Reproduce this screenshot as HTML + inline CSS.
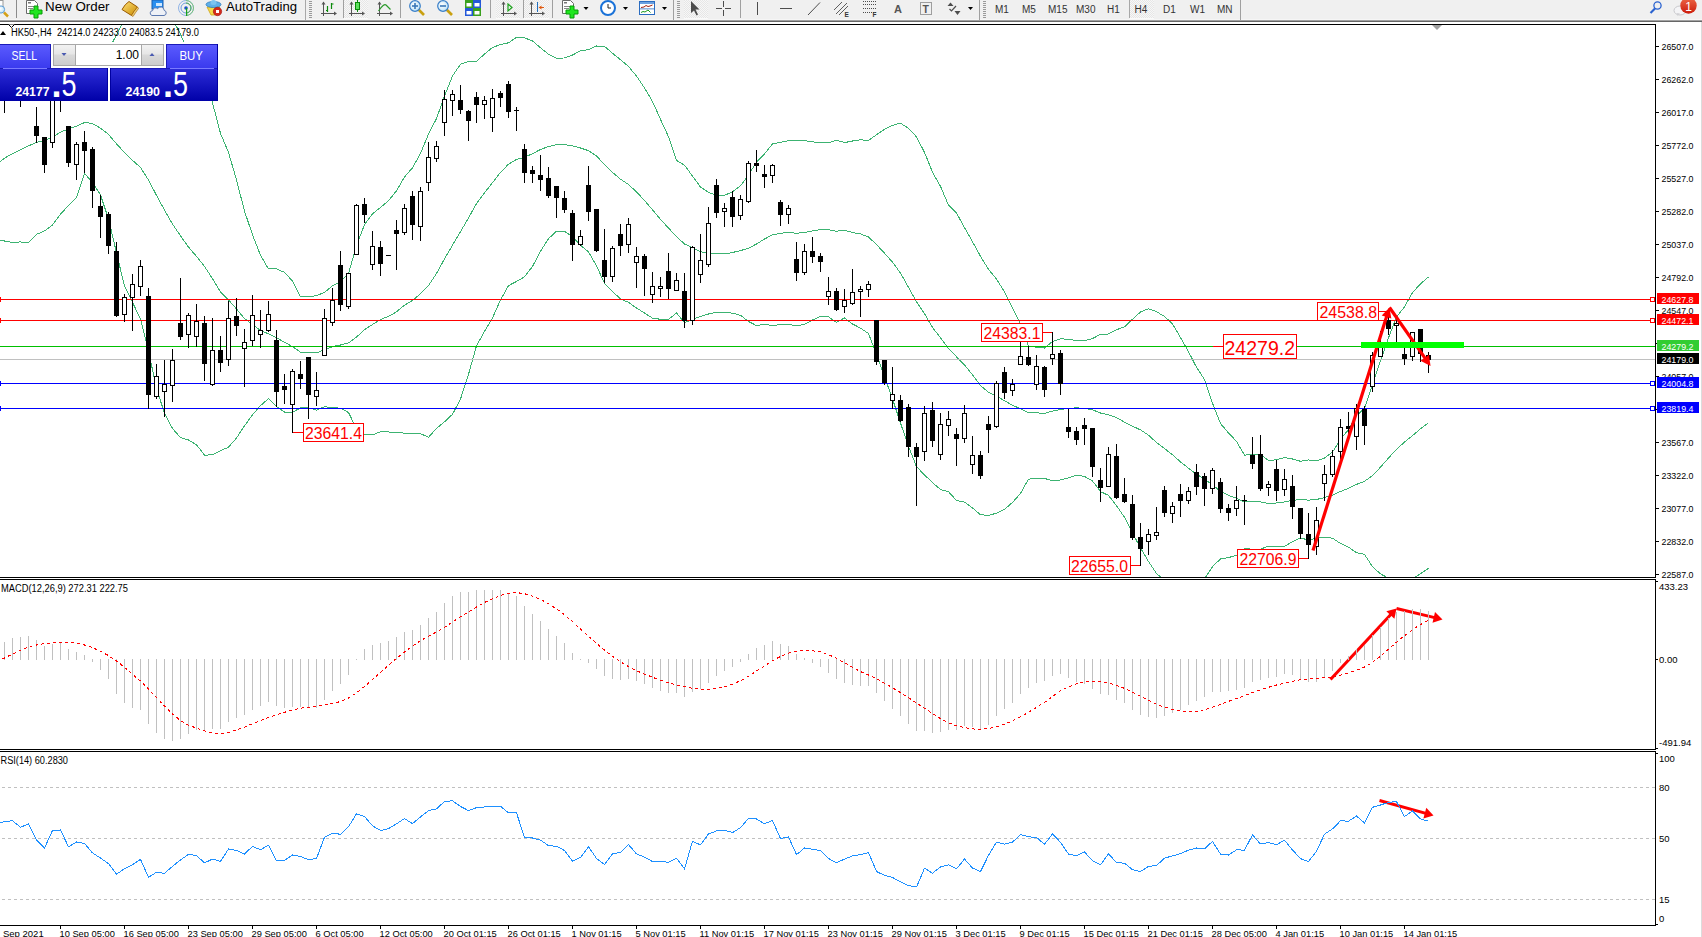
<!DOCTYPE html><html><head><meta charset="utf-8"><title>HK50-,H4</title><style>html,body{margin:0;padding:0;width:1702px;height:937px;overflow:hidden;background:#fff}svg{position:absolute;left:0;top:0;display:block}text{font-family:"Liberation Sans", Arial, sans-serif}</style></head><body>
<svg width="1702" height="937" viewBox="0 0 1702 937">
<defs><linearGradient id="gsTop" x1="0" y1="0" x2="0" y2="1"><stop offset="0" stop-color="#5c5cff"/><stop offset="1" stop-color="#3a3aee"/></linearGradient><linearGradient id="gsBot" x1="0" y1="0" x2="0" y2="1"><stop offset="0" stop-color="#2d2dd8"/><stop offset="1" stop-color="#0000a8"/></linearGradient><linearGradient id="gBtn" x1="0" y1="0" x2="0" y2="1"><stop offset="0" stop-color="#f2f2f2"/><stop offset="0.45" stop-color="#e6e6e6"/><stop offset="0.5" stop-color="#d9d9d9"/><stop offset="1" stop-color="#cdcdcd"/></linearGradient><clipPath id="cMain"><rect x="0" y="25" width="1655" height="552"/></clipPath><clipPath id="cMacd"><rect x="0" y="580" width="1655" height="169"/></clipPath><clipPath id="cRsi"><rect x="0" y="752" width="1655" height="173"/></clipPath></defs>
<rect x="0" y="0" width="1702" height="19" fill="#f0f0f0"/>
<rect x="0" y="19" width="1702" height="1" fill="#f6f6f6"/>
<rect x="0" y="20" width="1702" height="1" fill="#a2a2a2"/>
<rect x="0" y="21" width="1702" height="1" fill="#666"/>
<rect x="1701" y="22" width="1" height="915" fill="#dcdcdc"/>
<defs><pattern id="chk" width="2" height="2" patternUnits="userSpaceOnUse"><rect width="2" height="2" fill="#f7f7f7"/><rect width="1" height="1" fill="#e6e6e6"/><rect x="1" y="1" width="1" height="1" fill="#e6e6e6"/></pattern><radialGradient id="lens" cx="0.4" cy="0.4" r="0.6"><stop offset="0" stop-color="#ffffff"/><stop offset="1" stop-color="#bfe3f7"/></radialGradient><linearGradient id="gold" x1="0" y1="0" x2="1" y2="1"><stop offset="0" stop-color="#ffe27a"/><stop offset="1" stop-color="#c98a00"/></linearGradient></defs><rect x="-3" y="0.5" width="6" height="7" fill="#fff" stroke="#999"/><circle cx="1" cy="9.5" r="3.6" fill="url(#lens)" stroke="#5b9bd5" stroke-width="1"/><path d="M4,12.5 L8,16.5" stroke="#d4a017" stroke-width="2.5"/><rect x="16" y="0" width="1" height="18" fill="#8c8c8c"/><path d="M26.5,0.5 h8 l3,3 v10 h-11 Z" fill="#fff" stroke="#6a6a6a" stroke-width="1"/><rect x="28" y="2" width="3" height="1.5" fill="#777"/><rect x="28" y="6" width="6" height="1" fill="#888"/><rect x="28" y="8" width="5" height="1" fill="#888"/><path d="M34,6 h4 v4 h4 v4 h-4 v4 h-4 v-4 h-4 v-4 h4 Z" fill="#1ee61e" stroke="#079a07" stroke-width="1"/><text x="45" y="11" font-size="13.5" fill="#000" textLength="64.5" lengthAdjust="spacingAndGlyphs">New Order</text><path d="M122,9.5 Q125,4 129,1.5 L137.5,7 Q134,11 131.5,15.5 Z" fill="url(#gold)" stroke="#9a5a00" stroke-width="1"/><path d="M131.5,15.5 Q134,11 137.5,7 L138.5,8.5 Q135.5,12.5 133,16.5 Z" fill="#f0d070" stroke="#9a5a00" stroke-width="0.6"/><rect x="152" y="0" width="11" height="9" fill="#2a8ff0" stroke="#1a5fb0" stroke-width="1"/><rect x="156" y="3" width="6" height="3" fill="#cfe8ff"/><path d="M152,15.5 H164 A2.6,2.6 0 0 0 164.2,10.4 A3.6,3.6 0 0 0 157.6,8.6 A3,3 0 0 0 152.6,10.6 A2.5,2.5 0 0 0 152,15.5 Z" fill="#eef1f7" stroke="#5a78b0" stroke-width="1"/><circle cx="186" cy="8" r="7.5" fill="none" stroke="#8fb3e6" stroke-width="1"/><circle cx="186" cy="8" r="5" fill="none" stroke="#6c9be0" stroke-width="1"/><path d="M186,0.5 A7.5,7.5 0 0 1 186,15.5" fill="none" stroke="#7cc47c" stroke-width="1"/><path d="M186,3 A5,5 0 0 1 186,13" fill="none" stroke="#4caf50" stroke-width="1"/><circle cx="186" cy="8" r="1.8" fill="#1a56c8"/><rect x="186" y="8" width="1.2" height="8" fill="#19a019"/><path d="M207,7 L220,7 L215,15 L211,15 Z" fill="#f5d94a" stroke="#caa21a" stroke-width="0.8"/><ellipse cx="213.5" cy="4.5" rx="7.5" ry="3" fill="#5fb0e8" stroke="#2b7bc0" stroke-width="0.8"/><ellipse cx="213.5" cy="2.5" rx="3" ry="2.5" fill="#7cc4f0"/><circle cx="217.5" cy="11.5" r="4.2" fill="#d42a1a" stroke="#a01010" stroke-width="0.6"/><rect x="216" y="10" width="3" height="3" fill="#fff"/><text x="226" y="11.3" font-size="13.5" fill="#000" textLength="71" lengthAdjust="spacingAndGlyphs">AutoTrading</text><rect x="305" y="0" width="1" height="20" fill="#a8a8a8"/><rect x="309" y="1" width="3" height="1" fill="#9a9a9a"/><rect x="309" y="3" width="3" height="1" fill="#9a9a9a"/><rect x="309" y="5" width="3" height="1" fill="#9a9a9a"/><rect x="309" y="7" width="3" height="1" fill="#9a9a9a"/><rect x="309" y="9" width="3" height="1" fill="#9a9a9a"/><rect x="309" y="11" width="3" height="1" fill="#9a9a9a"/><rect x="309" y="13" width="3" height="1" fill="#9a9a9a"/><rect x="309" y="15" width="3" height="1" fill="#9a9a9a"/><rect x="309" y="17" width="3" height="1" fill="#9a9a9a"/><rect x="323" y="2" width="1" height="14" fill="#555"/><rect x="321" y="13" width="15" height="1" fill="#555"/><path d="M321.5,4.5 L323.5,1.5 L325.5,4.5 Z" fill="#555"/><path d="M334,11.5 L337,13.5 L334,15.5 Z" fill="#555"/><path d="M327.5,12 V6 M326,10.5 H327.5 M331.5,9 V3 M331.5,4 H333.5" stroke="#0a8a0a" stroke-width="1.2" fill="none"/><rect x="343" y="0" width="1" height="18" fill="#a0a0a0"/><rect x="344" y="0" width="24" height="18" fill="url(#chk)"/><rect x="344" y="18" width="24" height="1" fill="#fafafa"/><rect x="351" y="2" width="1" height="14" fill="#555"/><rect x="349" y="13" width="15" height="1" fill="#555"/><path d="M349.5,4.5 L351.5,1.5 L353.5,4.5 Z" fill="#555"/><path d="M362,11.5 L365,13.5 L362,15.5 Z" fill="#555"/><rect x="357" y="0" width="1" height="12" fill="#0a8a0a"/><rect x="355.5" y="2.5" width="4" height="7" fill="#5ee05e" stroke="#0a8a0a" stroke-width="1"/><rect x="379" y="2" width="1" height="14" fill="#555"/><rect x="377" y="13" width="15" height="1" fill="#555"/><path d="M377.5,4.5 L379.5,1.5 L381.5,4.5 Z" fill="#555"/><path d="M390,11.5 L393,13.5 L390,15.5 Z" fill="#555"/><path d="M378.5,11 Q384,3 386,5 T390.5,9.5" stroke="#2a9a2a" stroke-width="1.2" fill="none"/><rect x="400" y="0" width="1" height="18" fill="#a0a0a0"/><path d="M418.5,9.5 L424,15" stroke="#c9a010" stroke-width="2.6"/><circle cx="415" cy="6" r="5.3" fill="url(#lens)" stroke="#3a7fc8" stroke-width="1.2"/><rect x="412" y="5.2" width="6" height="1.6" fill="#3a78b8"/><rect x="414.2" y="3" width="1.6" height="6" fill="#3a78b8"/><path d="M446.5,9.5 L452,15" stroke="#c9a010" stroke-width="2.6"/><circle cx="443" cy="6" r="5.3" fill="url(#lens)" stroke="#3a7fc8" stroke-width="1.2"/><rect x="440" y="5.2" width="6" height="1.6" fill="#3a78b8"/><rect x="465" y="0" width="8" height="8" fill="#3aa01e"/><rect x="466.5" y="3" width="5" height="3.5" fill="#fff"/><rect x="473" y="0" width="8" height="8" fill="#2458d8"/><rect x="474.5" y="3" width="5" height="3.5" fill="#fff"/><rect x="465" y="8" width="8" height="8" fill="#2458d8"/><rect x="466.5" y="11" width="5" height="3.5" fill="#fff"/><rect x="473" y="8" width="8" height="8" fill="#3aa01e"/><rect x="474.5" y="11" width="5" height="3.5" fill="#fff"/><rect x="490" y="0" width="1" height="18" fill="#a0a0a0"/><rect x="496" y="0" width="24" height="18" fill="url(#chk)"/><rect x="496" y="18" width="24" height="1" fill="#fafafa"/><rect x="503" y="2" width="1" height="14" fill="#555"/><rect x="501" y="13" width="15" height="1" fill="#555"/><path d="M501.5,4.5 L503.5,1.5 L505.5,4.5 Z" fill="#555"/><path d="M514,11.5 L517,13.5 L514,15.5 Z" fill="#555"/><path d="M508,4 L512,7.5 L508,11 Z" fill="none" stroke="#1aa01a" stroke-width="1.2"/><rect x="523" y="0" width="1" height="18" fill="#a0a0a0"/><rect x="524" y="0" width="25" height="18" fill="url(#chk)"/><rect x="524" y="18" width="25" height="1" fill="#fafafa"/><rect x="531" y="2" width="1" height="14" fill="#555"/><rect x="529" y="13" width="15" height="1" fill="#555"/><path d="M529.5,4.5 L531.5,1.5 L533.5,4.5 Z" fill="#555"/><path d="M542,11.5 L545,13.5 L542,15.5 Z" fill="#555"/><rect x="537" y="2" width="1" height="10" fill="#1f6fc0"/><path d="M538.5,7.5 L541.5,5.5 L541.5,9.5 Z M541,7 h3 v1 h-3 Z" fill="#e05a10"/><rect x="552" y="0" width="1" height="18" fill="#a0a0a0"/><path d="M562.5,0.5 h8 l3,3 v10 h-11 Z" fill="#fff" stroke="#6a6a6a" stroke-width="1"/><rect x="564" y="2" width="3" height="1.5" fill="#777"/><rect x="564" y="6" width="6" height="1" fill="#888"/><rect x="564" y="8" width="5" height="1" fill="#888"/><path d="M570,6 h4 v4 h4 v4 h-4 v4 h-4 v-4 h-4 v-4 h4 Z" fill="#1ee61e" stroke="#079a07" stroke-width="1"/><path d="M583.5,7 L588.5,7 L586,10 Z" fill="#000"/><circle cx="608" cy="8" r="7" fill="#fff" stroke="#1a72d8" stroke-width="2"/><path d="M608,4 V8 H611" stroke="#222" stroke-width="1" fill="none"/><path d="M623.0,7 L628.0,7 L625.5,10 Z" fill="#000"/><rect x="639.5" y="1.5" width="15" height="13" fill="#fff" stroke="#2a6cc0" stroke-width="1"/><rect x="640" y="2" width="14" height="2" fill="#6aa0e0"/><rect x="640" y="8.5" width="14" height="0.8" fill="#2a6cc0"/><path d="M641,7.5 L644,7 L646,5.5 L648,6.5 L650,6 L652.5,5" stroke="#a02010" stroke-width="1" fill="none"/><path d="M641,12.5 L643,11.5 L645,12 L648,10 L650.5,12.5" stroke="#1a9a1a" stroke-width="1" fill="none"/><path d="M662.0,7 L667.0,7 L664.5,10 Z" fill="#000"/><rect x="673" y="0" width="1" height="20" fill="#a0a0a0"/><rect x="677" y="1" width="3" height="1" fill="#9a9a9a"/><rect x="677" y="3" width="3" height="1" fill="#9a9a9a"/><rect x="677" y="5" width="3" height="1" fill="#9a9a9a"/><rect x="677" y="7" width="3" height="1" fill="#9a9a9a"/><rect x="677" y="9" width="3" height="1" fill="#9a9a9a"/><rect x="677" y="11" width="3" height="1" fill="#9a9a9a"/><rect x="677" y="13" width="3" height="1" fill="#9a9a9a"/><rect x="677" y="15" width="3" height="1" fill="#9a9a9a"/><rect x="677" y="17" width="3" height="1" fill="#9a9a9a"/><rect x="684" y="0" width="24" height="18" fill="url(#chk)"/><rect x="684" y="18" width="24" height="1" fill="#fafafa"/><path d="M691,1 L691,13 L694,10.5 L696.5,15.5 L698,14.5 L695.5,9.5 L699.5,9.5 Z" fill="#4d4d4d"/><path d="M716,8.5 H722 M725,8.5 H731 M723.5,1 V7 M723.5,10 V16" stroke="#4d4d4d" stroke-width="1" fill="none"/><rect x="740" y="0" width="1" height="18" fill="#a0a0a0"/><rect x="757" y="2" width="1" height="13" fill="#4d4d4d"/><rect x="780" y="8" width="12" height="1" fill="#4d4d4d"/><path d="M808,15 L820,2.5" stroke="#4d4d4d" stroke-width="1" fill="none"/><path d="M834,10 L842,2 M836,14 L847,3 M839,15 L848,6" stroke="#4d4d4d" stroke-width="0.9" fill="none"/><text x="844.5" y="17" font-size="6.5" font-weight="bold" fill="#333">E</text><g fill="#4d4d4d"><rect x="863" y="1" width="1" height="1"/><rect x="865" y="1" width="1" height="1"/><rect x="867" y="1" width="1" height="1"/><rect x="869" y="1" width="1" height="1"/><rect x="871" y="1" width="1" height="1"/><rect x="873" y="1" width="1" height="1"/><rect x="875" y="1" width="1" height="1"/><rect x="863" y="4" width="1" height="1"/><rect x="865" y="4" width="1" height="1"/><rect x="867" y="4" width="1" height="1"/><rect x="869" y="4" width="1" height="1"/><rect x="871" y="4" width="1" height="1"/><rect x="873" y="4" width="1" height="1"/><rect x="875" y="4" width="1" height="1"/><rect x="863" y="8" width="1" height="1"/><rect x="865" y="8" width="1" height="1"/><rect x="867" y="8" width="1" height="1"/><rect x="869" y="8" width="1" height="1"/><rect x="871" y="8" width="1" height="1"/><rect x="873" y="8" width="1" height="1"/><rect x="875" y="8" width="1" height="1"/><rect x="863" y="12" width="1" height="1"/><rect x="865" y="12" width="1" height="1"/><rect x="867" y="12" width="1" height="1"/><rect x="869" y="12" width="1" height="1"/><rect x="871" y="12" width="1" height="1"/><rect x="873" y="12" width="1" height="1"/><rect x="875" y="12" width="1" height="1"/></g><text x="872.5" y="17" font-size="6.5" font-weight="bold" fill="#333">F</text><text x="894" y="13" font-size="11" font-weight="bold" fill="#555">A</text><rect x="920.5" y="2.5" width="11" height="12" fill="none" stroke="#4d4d4d" stroke-width="1" stroke-dasharray="1,1"/><text x="922.5" y="13" font-size="10.5" font-weight="bold" fill="#555">T</text><path d="M947.5,6 L950.5,2.5 L953.5,6 Z" fill="#4d4d4d"/><path d="M949.5,9 L951.5,11 L956,6" stroke="#4d4d4d" stroke-width="1.2" fill="none"/><path d="M954.5,11 L960.5,11 L957.5,15 Z" fill="#4d4d4d"/><path d="M968.0,7 L973.0,7 L970.5,10 Z" fill="#000"/><rect x="979" y="0" width="1" height="20" fill="#a0a0a0"/><rect x="983" y="1" width="3" height="1" fill="#9a9a9a"/><rect x="983" y="3" width="3" height="1" fill="#9a9a9a"/><rect x="983" y="5" width="3" height="1" fill="#9a9a9a"/><rect x="983" y="7" width="3" height="1" fill="#9a9a9a"/><rect x="983" y="9" width="3" height="1" fill="#9a9a9a"/><rect x="983" y="11" width="3" height="1" fill="#9a9a9a"/><rect x="983" y="13" width="3" height="1" fill="#9a9a9a"/><rect x="983" y="15" width="3" height="1" fill="#9a9a9a"/><rect x="983" y="17" width="3" height="1" fill="#9a9a9a"/><text x="995" y="12.5" font-size="10" fill="#333">M1</text><text x="1022" y="12.5" font-size="10" fill="#333">M5</text><text x="1048" y="12.5" font-size="10" fill="#333">M15</text><text x="1076" y="12.5" font-size="10" fill="#333">M30</text><text x="1107" y="12.5" font-size="10" fill="#333">H1</text><rect x="1129" y="0" width="1" height="18" fill="#a8a8a8"/><rect x="1130" y="0" width="24" height="18" fill="url(#chk)"/><rect x="1130" y="18" width="24" height="1" fill="#fafafa"/><text x="1134.5" y="12.5" font-size="10" fill="#333">H4</text><text x="1163" y="12.5" font-size="10" fill="#333">D1</text><text x="1190" y="12.5" font-size="10" fill="#333">W1</text><text x="1217" y="12.5" font-size="10" fill="#333">MN</text><rect x="1240" y="0" width="1" height="20" fill="#a0a0a0"/><circle cx="1657.5" cy="5.5" r="3.6" fill="none" stroke="#2a62d0" stroke-width="1.3"/><path d="M1655,8.5 L1650.5,13" stroke="#2a62d0" stroke-width="2.2"/><ellipse cx="1680" cy="10.5" rx="6" ry="4.5" fill="#f4f4f6" stroke="#c8c8cc" stroke-width="1"/><path d="M1677,13 L1677.5,16 L1680,13.5 Z" fill="#d0d0d4"/><defs><linearGradient id="badge" x1="0" y1="0" x2="0" y2="1"><stop offset="0" stop-color="#ee6a48"/><stop offset="1" stop-color="#cc1c0c"/></linearGradient></defs><circle cx="1688.5" cy="5.5" r="8.2" fill="url(#badge)"/><text x="1688.5" y="10.5" font-size="12" fill="#fff" text-anchor="middle">1</text>
<g shape-rendering="crispEdges" fill="#000">
<rect x="0" y="24" width="1656" height="1"/><rect x="1655" y="24" width="1" height="554"/><rect x="0" y="577" width="1656" height="1"/>
<rect x="0" y="579" width="1656" height="1"/><rect x="1655" y="579" width="1" height="171"/><rect x="0" y="749" width="1656" height="1"/>
<rect x="0" y="751" width="1656" height="1"/><rect x="1655" y="751" width="1" height="175"/><rect x="0" y="925" width="1656" height="1"/>
</g>
<path d="M8.5,24.5 L11.5,27.5 L14.5,24.5" fill="#fff" stroke="#000" stroke-width="1"/>
<path d="M1432,25 L1442,25 L1437,30 Z" fill="#a0a0a0"/>
<g font-size="9.8" fill="#000" shape-rendering="crispEdges">
<rect x="1656" y="46" width="3" height="1"/>
<text x="1661.5" y="49.6" textLength="32" lengthAdjust="spacingAndGlyphs">26507.0</text>
<rect x="1656" y="79" width="3" height="1"/>
<text x="1661.5" y="82.6" textLength="32" lengthAdjust="spacingAndGlyphs">26262.0</text>
<rect x="1656" y="112" width="3" height="1"/>
<text x="1661.5" y="115.6" textLength="32" lengthAdjust="spacingAndGlyphs">26017.0</text>
<rect x="1656" y="145" width="3" height="1"/>
<text x="1661.5" y="148.6" textLength="32" lengthAdjust="spacingAndGlyphs">25772.0</text>
<rect x="1656" y="178" width="3" height="1"/>
<text x="1661.5" y="181.6" textLength="32" lengthAdjust="spacingAndGlyphs">25527.0</text>
<rect x="1656" y="211" width="3" height="1"/>
<text x="1661.5" y="214.6" textLength="32" lengthAdjust="spacingAndGlyphs">25282.0</text>
<rect x="1656" y="244" width="3" height="1"/>
<text x="1661.5" y="247.6" textLength="32" lengthAdjust="spacingAndGlyphs">25037.0</text>
<rect x="1656" y="277" width="3" height="1"/>
<text x="1661.5" y="280.6" textLength="32" lengthAdjust="spacingAndGlyphs">24792.0</text>
<rect x="1656" y="310" width="3" height="1"/>
<text x="1661.5" y="313.6" textLength="32" lengthAdjust="spacingAndGlyphs">24547.0</text>
<rect x="1656" y="343" width="3" height="1"/>
<text x="1661.5" y="346.6" textLength="32" lengthAdjust="spacingAndGlyphs">24302.0</text>
<rect x="1656" y="376" width="3" height="1"/>
<text x="1661.5" y="379.6" textLength="32" lengthAdjust="spacingAndGlyphs">24057.0</text>
<rect x="1656" y="409" width="3" height="1"/>
<text x="1661.5" y="412.6" textLength="32" lengthAdjust="spacingAndGlyphs">23812.0</text>
<rect x="1656" y="442" width="3" height="1"/>
<text x="1661.5" y="445.6" textLength="32" lengthAdjust="spacingAndGlyphs">23567.0</text>
<rect x="1656" y="475" width="3" height="1"/>
<text x="1661.5" y="478.6" textLength="32" lengthAdjust="spacingAndGlyphs">23322.0</text>
<rect x="1656" y="508" width="3" height="1"/>
<text x="1661.5" y="511.6" textLength="32" lengthAdjust="spacingAndGlyphs">23077.0</text>
<rect x="1656" y="541" width="3" height="1"/>
<text x="1661.5" y="544.6" textLength="32" lengthAdjust="spacingAndGlyphs">22832.0</text>
<rect x="1656" y="574" width="3" height="1"/>
<text x="1661.5" y="577.6" textLength="32" lengthAdjust="spacingAndGlyphs">22587.0</text>
</g>
<g font-size="9.5" fill="#000" shape-rendering="crispEdges">
<text x="3" y="937">Sep 2021</text>
<rect x="60" y="926" width="1" height="3"/>
<text x="59.5" y="937" font-size="9.3">10 Sep 05:00</text>
<rect x="124" y="926" width="1" height="3"/>
<text x="123.5" y="937" font-size="9.3">16 Sep 05:00</text>
<rect x="188" y="926" width="1" height="3"/>
<text x="187.5" y="937" font-size="9.3">23 Sep 05:00</text>
<rect x="252" y="926" width="1" height="3"/>
<text x="251.5" y="937" font-size="9.3">29 Sep 05:00</text>
<rect x="316" y="926" width="1" height="3"/>
<text x="315.5" y="937" font-size="9.3">6 Oct 05:00</text>
<rect x="380" y="926" width="1" height="3"/>
<text x="379.5" y="937" font-size="9.3">12 Oct 05:00</text>
<rect x="444" y="926" width="1" height="3"/>
<text x="443.5" y="937" font-size="9.3">20 Oct 01:15</text>
<rect x="508" y="926" width="1" height="3"/>
<text x="507.5" y="937" font-size="9.3">26 Oct 01:15</text>
<rect x="572" y="926" width="1" height="3"/>
<text x="571.5" y="937" font-size="9.3">1 Nov 01:15</text>
<rect x="636" y="926" width="1" height="3"/>
<text x="635.5" y="937" font-size="9.3">5 Nov 01:15</text>
<rect x="700" y="926" width="1" height="3"/>
<text x="699.5" y="937" font-size="9.3">11 Nov 01:15</text>
<rect x="764" y="926" width="1" height="3"/>
<text x="763.5" y="937" font-size="9.3">17 Nov 01:15</text>
<rect x="828" y="926" width="1" height="3"/>
<text x="827.5" y="937" font-size="9.3">23 Nov 01:15</text>
<rect x="892" y="926" width="1" height="3"/>
<text x="891.5" y="937" font-size="9.3">29 Nov 01:15</text>
<rect x="956" y="926" width="1" height="3"/>
<text x="955.5" y="937" font-size="9.3">3 Dec 01:15</text>
<rect x="1020" y="926" width="1" height="3"/>
<text x="1019.5" y="937" font-size="9.3">9 Dec 01:15</text>
<rect x="1084" y="926" width="1" height="3"/>
<text x="1083.5" y="937" font-size="9.3">15 Dec 01:15</text>
<rect x="1148" y="926" width="1" height="3"/>
<text x="1147.5" y="937" font-size="9.3">21 Dec 01:15</text>
<rect x="1212" y="926" width="1" height="3"/>
<text x="1211.5" y="937" font-size="9.3">28 Dec 05:00</text>
<rect x="1276" y="926" width="1" height="3"/>
<text x="1275.5" y="937" font-size="9.3">4 Jan 01:15</text>
<rect x="1340" y="926" width="1" height="3"/>
<text x="1339.5" y="937" font-size="9.3">10 Jan 01:15</text>
<rect x="1404" y="926" width="1" height="3"/>
<text x="1403.5" y="937" font-size="9.3">14 Jan 01:15</text>
</g>
<g clip-path="url(#cMain)">
<polyline points="-3.5,89.5 4.5,75.2 12.5,64.9 20.5,57.3 28.5,49.0 36.5,50.2 44.5,49.7 52.5,49.4 60.5,50.1 68.5,52.3 76.5,55.1 84.5,71.9 92.5,64.3 100.5,61.2 108.5,49.8 116.5,34.9 124.5,18.9 132.5,18.4 140.5,15.5 148.5,9.1 156.5,2.1 164.5,6.9 172.5,19.5 180.5,33.9 188.5,54.2 196.5,68.0 204.5,77.4 212.5,102.8 220.5,133.4 228.5,152.5 236.5,179.8 244.5,211.2 252.5,234.7 260.5,255.3 268.5,269.0 276.5,268.8 284.5,272.4 292.5,281.0 300.5,296.6 308.5,296.6 316.5,295.7 324.5,292.4 332.5,285.8 340.5,281.7 348.5,273.4 356.5,245.5 364.5,224.6 372.5,213.9 380.5,207.4 388.5,200.8 396.5,190.8 404.5,177.0 412.5,167.8 420.5,153.5 428.5,134.1 436.5,118.5 444.5,96.1 452.5,75.9 460.5,64.2 468.5,61.6 476.5,61.4 484.5,54.1 492.5,47.4 500.5,44.6 508.5,42.8 516.5,37.4 524.5,37.8 532.5,41.0 540.5,47.7 548.5,54.3 556.5,58.1 564.5,58.0 572.5,55.0 580.5,50.8 588.5,49.7 596.5,46.0 604.5,46.3 612.5,53.3 620.5,59.7 628.5,66.5 636.5,76.1 644.5,87.9 652.5,101.6 660.5,119.3 668.5,136.8 676.5,160.3 684.5,165.3 692.5,176.0 700.5,187.1 708.5,192.4 716.5,195.5 724.5,195.4 732.5,191.7 740.5,185.9 748.5,174.9 756.5,162.3 764.5,153.8 772.5,144.0 780.5,142.2 788.5,140.8 796.5,140.5 804.5,140.7 812.5,141.8 820.5,143.0 828.5,142.8 836.5,140.1 844.5,142.6 852.5,141.0 860.5,139.8 868.5,140.5 876.5,134.7 884.5,129.4 892.5,125.3 900.5,123.2 908.5,128.3 916.5,136.9 924.5,152.4 932.5,172.2 940.5,186.3 948.5,205.2 956.5,213.0 964.5,227.6 972.5,241.7 980.5,256.3 988.5,269.4 996.5,279.0 1004.5,292.0 1012.5,308.1 1020.5,323.9 1028.5,346.2 1036.5,347.2 1044.5,348.1 1052.5,341.5 1060.5,338.8 1068.5,339.3 1076.5,340.5 1084.5,340.7 1092.5,338.6 1100.5,334.3 1108.5,334.0 1116.5,329.7 1124.5,326.9 1132.5,319.2 1140.5,312.0 1148.5,308.7 1156.5,311.7 1164.5,316.5 1172.5,323.8 1180.5,337.6 1188.5,351.7 1196.5,367.3 1204.5,379.5 1212.5,403.2 1220.5,423.6 1228.5,432.9 1236.5,441.4 1244.5,455.1 1252.5,454.5 1260.5,454.6 1268.5,460.5 1276.5,459.8 1284.5,457.5 1292.5,459.0 1300.5,461.3 1308.5,459.9 1316.5,460.9 1324.5,458.0 1332.5,452.1 1340.5,439.4 1348.5,429.5 1356.5,416.1 1364.5,408.2 1372.5,384.2 1380.5,360.7 1388.5,337.8 1396.5,317.2 1404.5,306.8 1412.5,292.7 1420.5,283.8 1428.5,276.9" fill="none" stroke="#3cb371" stroke-width="1" shape-rendering="crispEdges"/>
<polyline points="-3.5,164.5 4.5,158.1 12.5,153.7 20.5,149.6 28.5,145.9 36.5,142.3 44.5,140.3 52.5,137.2 60.5,132.1 68.5,128.9 76.5,126.2 84.5,122.5 92.5,123.5 100.5,128.1 108.5,134.4 116.5,143.9 124.5,152.5 132.5,160.3 140.5,167.4 148.5,180.1 156.5,195.3 164.5,210.1 172.5,224.0 180.5,235.8 188.5,247.1 196.5,256.4 204.5,266.3 212.5,278.8 220.5,292.1 228.5,299.9 236.5,308.9 244.5,318.5 252.5,324.7 260.5,330.4 268.5,333.9 276.5,337.7 284.5,342.3 292.5,346.6 300.5,352.2 308.5,352.2 316.5,352.9 324.5,349.6 332.5,346.6 340.5,345.0 348.5,342.9 356.5,337.1 364.5,329.7 372.5,324.5 380.5,319.5 388.5,316.4 396.5,311.8 404.5,305.1 412.5,300.5 420.5,293.6 428.5,285.7 436.5,273.4 444.5,258.9 452.5,245.1 460.5,231.7 468.5,217.9 476.5,203.6 484.5,192.8 492.5,182.7 500.5,172.3 508.5,164.2 516.5,159.4 524.5,157.3 532.5,153.7 540.5,149.5 548.5,146.5 556.5,144.7 564.5,144.7 572.5,145.8 580.5,148.0 588.5,150.7 596.5,155.9 604.5,164.7 612.5,172.4 620.5,179.2 628.5,184.4 636.5,192.0 644.5,200.4 652.5,209.8 660.5,219.3 668.5,228.1 676.5,236.6 684.5,244.0 692.5,247.7 700.5,251.8 708.5,253.2 716.5,253.9 724.5,253.9 732.5,252.5 740.5,250.6 748.5,248.2 756.5,244.0 764.5,239.0 772.5,234.9 780.5,233.3 788.5,232.5 796.5,233.3 804.5,232.4 812.5,230.9 820.5,229.7 828.5,229.8 836.5,231.2 844.5,230.2 852.5,232.5 860.5,233.9 868.5,237.0 876.5,244.5 884.5,253.2 892.5,262.1 900.5,273.1 908.5,287.3 916.5,301.8 924.5,313.6 932.5,327.4 940.5,337.9 948.5,348.4 956.5,356.8 964.5,364.9 972.5,374.8 980.5,385.5 988.5,392.4 996.5,396.1 1004.5,400.7 1012.5,405.3 1020.5,408.7 1028.5,412.7 1036.5,412.9 1044.5,413.3 1052.5,411.2 1060.5,409.4 1068.5,408.6 1076.5,407.8 1084.5,408.5 1092.5,409.8 1100.5,413.0 1108.5,414.7 1116.5,417.7 1124.5,422.1 1132.5,426.2 1140.5,429.9 1148.5,435.1 1156.5,442.6 1164.5,448.6 1172.5,454.7 1180.5,461.9 1188.5,468.2 1196.5,474.2 1204.5,479.1 1212.5,485.0 1220.5,491.2 1228.5,495.3 1236.5,498.3 1244.5,502.0 1252.5,501.8 1260.5,501.9 1268.5,503.4 1276.5,503.0 1284.5,501.9 1292.5,500.3 1300.5,499.6 1308.5,500.1 1316.5,499.5 1324.5,497.6 1332.5,495.1 1340.5,491.5 1348.5,488.3 1356.5,484.4 1364.5,481.3 1372.5,475.5 1380.5,467.2 1388.5,458.0 1396.5,449.2 1404.5,442.1 1412.5,435.6 1420.5,428.8 1428.5,422.6" fill="none" stroke="#3cb371" stroke-width="1" shape-rendering="crispEdges"/>
<polyline points="-3.5,239.5 4.5,241.0 12.5,242.5 20.5,241.9 28.5,242.8 36.5,234.4 44.5,230.9 52.5,224.9 60.5,214.0 68.5,205.6 76.5,197.4 84.5,173.2 92.5,182.8 100.5,194.9 108.5,218.9 116.5,252.8 124.5,286.1 132.5,302.2 140.5,319.2 148.5,351.1 156.5,388.5 164.5,413.3 172.5,428.5 180.5,437.6 188.5,440.0 196.5,444.7 204.5,455.2 212.5,454.8 220.5,450.7 228.5,447.2 236.5,438.0 244.5,425.8 252.5,414.8 260.5,405.6 268.5,398.7 276.5,406.6 284.5,412.1 292.5,412.2 300.5,407.9 308.5,407.8 316.5,410.1 324.5,406.8 332.5,407.4 340.5,408.3 348.5,412.5 356.5,428.7 364.5,434.7 372.5,435.0 380.5,431.7 388.5,432.0 396.5,432.7 404.5,433.1 412.5,433.2 420.5,433.6 428.5,437.3 436.5,428.4 444.5,421.8 452.5,414.3 460.5,399.1 468.5,374.3 476.5,345.8 484.5,331.5 492.5,317.9 500.5,300.0 508.5,285.6 516.5,281.5 524.5,276.9 532.5,266.4 540.5,251.3 548.5,238.7 556.5,231.2 564.5,231.4 572.5,236.6 580.5,245.3 588.5,251.8 596.5,265.9 604.5,283.2 612.5,291.6 620.5,298.8 628.5,302.4 636.5,308.0 644.5,313.0 652.5,318.1 660.5,319.3 668.5,319.4 676.5,313.0 684.5,322.7 692.5,319.5 700.5,316.4 708.5,314.0 716.5,312.4 724.5,312.4 732.5,313.2 740.5,315.3 748.5,321.5 756.5,325.6 764.5,324.2 772.5,325.7 780.5,324.4 788.5,324.2 796.5,326.0 804.5,324.2 812.5,320.0 820.5,316.3 828.5,316.8 836.5,322.4 844.5,317.9 852.5,324.0 860.5,328.1 868.5,333.5 876.5,354.3 884.5,376.9 892.5,398.9 900.5,423.0 908.5,446.3 916.5,466.7 924.5,474.9 932.5,482.6 940.5,489.5 948.5,491.7 956.5,500.5 964.5,502.1 972.5,507.9 980.5,514.7 988.5,515.4 996.5,513.2 1004.5,509.4 1012.5,502.4 1020.5,493.4 1028.5,479.1 1036.5,478.6 1044.5,478.4 1052.5,480.9 1060.5,480.0 1068.5,477.9 1076.5,475.1 1084.5,476.4 1092.5,481.0 1100.5,491.6 1108.5,495.4 1116.5,505.7 1124.5,517.3 1132.5,533.1 1140.5,547.8 1148.5,561.5 1156.5,573.4 1164.5,580.7 1172.5,585.6 1180.5,586.2 1188.5,584.7 1196.5,581.0 1204.5,578.8 1212.5,566.7 1220.5,558.9 1228.5,557.6 1236.5,555.2 1244.5,548.8 1252.5,549.1 1260.5,549.1 1268.5,546.2 1276.5,546.2 1284.5,546.3 1292.5,541.7 1300.5,537.8 1308.5,540.2 1316.5,538.1 1324.5,537.1 1332.5,538.2 1340.5,543.5 1348.5,547.1 1356.5,552.8 1364.5,554.3 1372.5,566.8 1380.5,573.8 1388.5,578.3 1396.5,581.1 1404.5,577.4 1412.5,578.5 1420.5,573.8 1428.5,568.2" fill="none" stroke="#3cb371" stroke-width="1" shape-rendering="crispEdges"/>
<g shape-rendering="crispEdges">
<rect x="0" y="299" width="1655" height="1" fill="#ff0000"/>
<rect x="0" y="320" width="1655" height="1" fill="#ff0000"/>
<rect x="0" y="346" width="1655" height="1" fill="#00c000"/>
<rect x="0" y="359" width="1655" height="1" fill="#c0c0c0"/>
<rect x="0" y="383" width="1655" height="1" fill="#0000ff"/>
<rect x="0" y="408" width="1655" height="1" fill="#0000ff"/>
</g>
<g shape-rendering="crispEdges">
<rect x="4" y="81" width="1" height="32" fill="#000"/>
<rect x="2" y="81" width="5" height="7" fill="#000"/>
<rect x="12" y="60" width="1" height="31" fill="#000"/>
<rect x="10" y="77" width="5" height="7" fill="#000"/>
<rect x="20" y="88" width="1" height="19" fill="#000"/>
<rect x="18" y="94" width="5" height="7" fill="#000"/>
<rect x="28" y="60" width="1" height="36" fill="#000"/>
<rect x="26.5" y="89.5" width="4" height="5" fill="#fff" stroke="#000" stroke-width="1"/>
<rect x="36" y="107" width="1" height="36" fill="#000"/>
<rect x="34" y="126" width="5" height="10" fill="#000"/>
<rect x="44" y="137" width="1" height="36" fill="#000"/>
<rect x="42" y="137" width="5" height="28" fill="#000"/>
<rect x="52" y="88" width="1" height="60" fill="#000"/>
<rect x="50.5" y="100.5" width="4" height="42" fill="#fff" stroke="#000" stroke-width="1"/>
<rect x="60" y="88" width="1" height="24" fill="#000"/>
<rect x="58" y="92" width="5" height="7" fill="#000"/>
<rect x="68" y="126" width="1" height="41" fill="#000"/>
<rect x="66" y="126" width="5" height="37" fill="#000"/>
<rect x="76" y="142" width="1" height="38" fill="#000"/>
<rect x="74.5" y="144.5" width="4" height="20" fill="#fff" stroke="#000" stroke-width="1"/>
<rect x="84" y="131" width="1" height="42" fill="#000"/>
<rect x="82" y="142" width="5" height="9" fill="#000"/>
<rect x="92" y="147" width="1" height="61" fill="#000"/>
<rect x="90" y="149" width="5" height="42" fill="#000"/>
<rect x="100" y="195" width="1" height="43" fill="#000"/>
<rect x="98" y="206" width="5" height="11" fill="#000"/>
<rect x="108" y="212" width="1" height="42" fill="#000"/>
<rect x="106" y="214" width="5" height="32" fill="#000"/>
<rect x="116" y="242" width="1" height="75" fill="#000"/>
<rect x="114" y="251" width="5" height="65" fill="#000"/>
<rect x="124" y="294" width="1" height="28" fill="#000"/>
<rect x="122.5" y="297.5" width="4" height="17" fill="#fff" stroke="#000" stroke-width="1"/>
<rect x="132" y="274" width="1" height="57" fill="#000"/>
<rect x="130.5" y="284.5" width="4" height="13" fill="#fff" stroke="#000" stroke-width="1"/>
<rect x="140" y="260" width="1" height="36" fill="#000"/>
<rect x="138.5" y="266.5" width="4" height="20" fill="#fff" stroke="#000" stroke-width="1"/>
<rect x="148" y="288" width="1" height="121" fill="#000"/>
<rect x="146" y="296" width="5" height="99" fill="#000"/>
<rect x="156" y="364" width="1" height="35" fill="#000"/>
<rect x="154.5" y="376.5" width="4" height="20" fill="#fff" stroke="#000" stroke-width="1"/>
<rect x="164" y="360" width="1" height="57" fill="#000"/>
<rect x="162.5" y="384.5" width="4" height="7" fill="#fff" stroke="#000" stroke-width="1"/>
<rect x="172" y="349" width="1" height="53" fill="#000"/>
<rect x="170.5" y="360.5" width="4" height="25" fill="#fff" stroke="#000" stroke-width="1"/>
<rect x="180" y="278" width="1" height="62" fill="#000"/>
<rect x="178" y="323" width="5" height="14" fill="#000"/>
<rect x="188" y="313" width="1" height="35" fill="#000"/>
<rect x="186.5" y="315.5" width="4" height="19" fill="#fff" stroke="#000" stroke-width="1"/>
<rect x="196" y="304" width="1" height="43" fill="#000"/>
<rect x="194.5" y="321.5" width="4" height="15" fill="#fff" stroke="#000" stroke-width="1"/>
<rect x="204" y="316" width="1" height="65" fill="#000"/>
<rect x="202" y="323" width="5" height="41" fill="#000"/>
<rect x="212" y="318" width="1" height="68" fill="#000"/>
<rect x="210.5" y="350.5" width="4" height="34" fill="#fff" stroke="#000" stroke-width="1"/>
<rect x="220" y="336" width="1" height="36" fill="#000"/>
<rect x="218" y="350" width="5" height="13" fill="#000"/>
<rect x="228" y="301" width="1" height="65" fill="#000"/>
<rect x="226.5" y="318.5" width="4" height="41" fill="#fff" stroke="#000" stroke-width="1"/>
<rect x="236" y="298" width="1" height="38" fill="#000"/>
<rect x="234" y="316" width="5" height="10" fill="#000"/>
<rect x="244" y="329" width="1" height="58" fill="#000"/>
<rect x="242.5" y="342.5" width="4" height="6" fill="#fff" stroke="#000" stroke-width="1"/>
<rect x="252" y="295" width="1" height="51" fill="#000"/>
<rect x="250.5" y="315.5" width="4" height="25" fill="#fff" stroke="#000" stroke-width="1"/>
<rect x="260" y="310" width="1" height="38" fill="#000"/>
<rect x="258.5" y="330.5" width="4" height="4" fill="#fff" stroke="#000" stroke-width="1"/>
<rect x="268" y="301" width="1" height="31" fill="#000"/>
<rect x="266.5" y="314.5" width="4" height="16" fill="#fff" stroke="#000" stroke-width="1"/>
<rect x="276" y="330" width="1" height="77" fill="#000"/>
<rect x="274" y="340" width="5" height="52" fill="#000"/>
<rect x="284" y="374" width="1" height="30" fill="#000"/>
<rect x="282" y="386" width="5" height="4" fill="#000"/>
<rect x="292" y="369" width="1" height="64" fill="#000"/>
<rect x="290.5" y="371.5" width="4" height="33" fill="#fff" stroke="#000" stroke-width="1"/>
<rect x="300" y="361" width="1" height="28" fill="#000"/>
<rect x="298" y="374" width="5" height="5" fill="#000"/>
<rect x="308" y="357" width="1" height="62" fill="#000"/>
<rect x="306" y="357" width="5" height="38" fill="#000"/>
<rect x="316" y="372" width="1" height="34" fill="#000"/>
<rect x="314.5" y="390.5" width="4" height="6" fill="#fff" stroke="#000" stroke-width="1"/>
<rect x="324" y="309" width="1" height="47" fill="#000"/>
<rect x="322.5" y="318.5" width="4" height="37" fill="#fff" stroke="#000" stroke-width="1"/>
<rect x="332" y="288" width="1" height="38" fill="#000"/>
<rect x="330.5" y="300.5" width="4" height="22" fill="#fff" stroke="#000" stroke-width="1"/>
<rect x="340" y="251" width="1" height="60" fill="#000"/>
<rect x="338" y="265" width="5" height="40" fill="#000"/>
<rect x="348" y="273" width="1" height="36" fill="#000"/>
<rect x="346.5" y="273.5" width="4" height="33" fill="#fff" stroke="#000" stroke-width="1"/>
<rect x="356" y="204" width="1" height="51" fill="#000"/>
<rect x="354.5" y="205.5" width="4" height="49" fill="#fff" stroke="#000" stroke-width="1"/>
<rect x="364" y="198" width="1" height="25" fill="#000"/>
<rect x="362" y="204" width="5" height="11" fill="#000"/>
<rect x="372" y="231" width="1" height="39" fill="#000"/>
<rect x="370.5" y="246.5" width="4" height="18" fill="#fff" stroke="#000" stroke-width="1"/>
<rect x="380" y="241" width="1" height="35" fill="#000"/>
<rect x="378" y="247" width="5" height="17" fill="#000"/>
<rect x="388" y="255" width="1" height="1" fill="#000"/>
<rect x="386" y="255" width="5" height="1" fill="#000"/>
<rect x="396" y="220" width="1" height="50" fill="#000"/>
<rect x="394" y="230" width="5" height="4" fill="#000"/>
<rect x="404" y="204" width="1" height="31" fill="#000"/>
<rect x="402.5" y="208.5" width="4" height="24" fill="#fff" stroke="#000" stroke-width="1"/>
<rect x="412" y="191" width="1" height="49" fill="#000"/>
<rect x="410" y="196" width="5" height="29" fill="#000"/>
<rect x="420" y="187" width="1" height="54" fill="#000"/>
<rect x="418.5" y="191.5" width="4" height="35" fill="#fff" stroke="#000" stroke-width="1"/>
<rect x="428" y="142" width="1" height="49" fill="#000"/>
<rect x="426.5" y="157.5" width="4" height="25" fill="#fff" stroke="#000" stroke-width="1"/>
<rect x="436" y="141" width="1" height="21" fill="#000"/>
<rect x="434.5" y="146.5" width="4" height="12" fill="#fff" stroke="#000" stroke-width="1"/>
<rect x="444" y="90" width="1" height="46" fill="#000"/>
<rect x="442.5" y="99.5" width="4" height="23" fill="#fff" stroke="#000" stroke-width="1"/>
<rect x="452" y="90" width="1" height="26" fill="#000"/>
<rect x="450.5" y="94.5" width="4" height="6" fill="#fff" stroke="#000" stroke-width="1"/>
<rect x="460" y="85" width="1" height="29" fill="#000"/>
<rect x="458" y="100" width="5" height="10" fill="#000"/>
<rect x="468" y="110" width="1" height="31" fill="#000"/>
<rect x="466" y="111" width="5" height="10" fill="#000"/>
<rect x="476" y="92" width="1" height="31" fill="#000"/>
<rect x="474" y="97" width="5" height="8" fill="#000"/>
<rect x="484" y="96" width="1" height="23" fill="#000"/>
<rect x="482.5" y="100.5" width="4" height="4" fill="#fff" stroke="#000" stroke-width="1"/>
<rect x="492" y="89" width="1" height="43" fill="#000"/>
<rect x="490.5" y="98.5" width="4" height="19" fill="#fff" stroke="#000" stroke-width="1"/>
<rect x="500" y="91" width="1" height="16" fill="#000"/>
<rect x="498" y="93" width="5" height="5" fill="#000"/>
<rect x="508" y="81" width="1" height="37" fill="#000"/>
<rect x="506" y="84" width="5" height="28" fill="#000"/>
<rect x="516" y="107" width="1" height="24" fill="#000"/>
<rect x="514" y="110" width="5" height="1" fill="#000"/>
<rect x="524" y="144" width="1" height="39" fill="#000"/>
<rect x="522" y="149" width="5" height="24" fill="#000"/>
<rect x="532" y="166" width="1" height="17" fill="#000"/>
<rect x="530" y="170" width="5" height="4" fill="#000"/>
<rect x="540" y="155" width="1" height="36" fill="#000"/>
<rect x="538" y="175" width="5" height="5" fill="#000"/>
<rect x="548" y="167" width="1" height="31" fill="#000"/>
<rect x="546" y="178" width="5" height="18" fill="#000"/>
<rect x="556" y="186" width="1" height="32" fill="#000"/>
<rect x="554" y="186" width="5" height="12" fill="#000"/>
<rect x="564" y="191" width="1" height="22" fill="#000"/>
<rect x="562" y="198" width="5" height="12" fill="#000"/>
<rect x="572" y="210" width="1" height="51" fill="#000"/>
<rect x="570" y="213" width="5" height="32" fill="#000"/>
<rect x="580" y="230" width="1" height="16" fill="#000"/>
<rect x="578.5" y="236.5" width="4" height="8" fill="#fff" stroke="#000" stroke-width="1"/>
<rect x="588" y="166" width="1" height="55" fill="#000"/>
<rect x="586" y="185" width="5" height="27" fill="#000"/>
<rect x="596" y="209" width="1" height="43" fill="#000"/>
<rect x="594" y="209" width="5" height="42" fill="#000"/>
<rect x="604" y="229" width="1" height="54" fill="#000"/>
<rect x="602" y="260" width="5" height="17" fill="#000"/>
<rect x="612" y="246" width="1" height="36" fill="#000"/>
<rect x="610.5" y="248.5" width="4" height="28" fill="#fff" stroke="#000" stroke-width="1"/>
<rect x="620" y="224" width="1" height="32" fill="#000"/>
<rect x="618" y="234" width="5" height="12" fill="#000"/>
<rect x="628" y="218" width="1" height="35" fill="#000"/>
<rect x="626.5" y="224.5" width="4" height="20" fill="#fff" stroke="#000" stroke-width="1"/>
<rect x="636" y="247" width="1" height="41" fill="#000"/>
<rect x="634.5" y="256.5" width="4" height="6" fill="#fff" stroke="#000" stroke-width="1"/>
<rect x="644" y="254" width="1" height="42" fill="#000"/>
<rect x="642" y="256" width="5" height="13" fill="#000"/>
<rect x="652" y="272" width="1" height="31" fill="#000"/>
<rect x="650.5" y="286.5" width="4" height="8" fill="#fff" stroke="#000" stroke-width="1"/>
<rect x="660" y="277" width="1" height="20" fill="#000"/>
<rect x="658.5" y="286.5" width="4" height="2" fill="#fff" stroke="#000" stroke-width="1"/>
<rect x="668" y="253" width="1" height="46" fill="#000"/>
<rect x="666" y="271" width="5" height="18" fill="#000"/>
<rect x="676" y="273" width="1" height="18" fill="#000"/>
<rect x="674.5" y="280.5" width="4" height="10" fill="#fff" stroke="#000" stroke-width="1"/>
<rect x="684" y="273" width="1" height="55" fill="#000"/>
<rect x="682" y="291" width="5" height="30" fill="#000"/>
<rect x="692" y="246" width="1" height="79" fill="#000"/>
<rect x="690.5" y="247.5" width="4" height="73" fill="#fff" stroke="#000" stroke-width="1"/>
<rect x="700" y="234" width="1" height="49" fill="#000"/>
<rect x="698.5" y="260.5" width="4" height="14" fill="#fff" stroke="#000" stroke-width="1"/>
<rect x="708" y="207" width="1" height="60" fill="#000"/>
<rect x="706.5" y="223.5" width="4" height="41" fill="#fff" stroke="#000" stroke-width="1"/>
<rect x="716" y="179" width="1" height="39" fill="#000"/>
<rect x="714" y="185" width="5" height="28" fill="#000"/>
<rect x="724" y="203" width="1" height="24" fill="#000"/>
<rect x="722.5" y="208.5" width="4" height="3" fill="#fff" stroke="#000" stroke-width="1"/>
<rect x="732" y="191" width="1" height="36" fill="#000"/>
<rect x="730" y="197" width="5" height="20" fill="#000"/>
<rect x="740" y="195" width="1" height="25" fill="#000"/>
<rect x="738.5" y="199.5" width="4" height="16" fill="#fff" stroke="#000" stroke-width="1"/>
<rect x="748" y="161" width="1" height="42" fill="#000"/>
<rect x="746.5" y="163.5" width="4" height="38" fill="#fff" stroke="#000" stroke-width="1"/>
<rect x="756" y="150" width="1" height="22" fill="#000"/>
<rect x="754" y="163" width="5" height="3" fill="#000"/>
<rect x="764" y="165" width="1" height="23" fill="#000"/>
<rect x="762" y="174" width="5" height="3" fill="#000"/>
<rect x="772" y="164" width="1" height="19" fill="#000"/>
<rect x="770.5" y="165.5" width="4" height="10" fill="#fff" stroke="#000" stroke-width="1"/>
<rect x="780" y="200" width="1" height="26" fill="#000"/>
<rect x="778" y="202" width="5" height="13" fill="#000"/>
<rect x="788" y="205" width="1" height="19" fill="#000"/>
<rect x="786.5" y="208.5" width="4" height="6" fill="#fff" stroke="#000" stroke-width="1"/>
<rect x="796" y="242" width="1" height="39" fill="#000"/>
<rect x="794" y="259" width="5" height="14" fill="#000"/>
<rect x="804" y="244" width="1" height="31" fill="#000"/>
<rect x="802.5" y="251.5" width="4" height="21" fill="#fff" stroke="#000" stroke-width="1"/>
<rect x="812" y="237" width="1" height="26" fill="#000"/>
<rect x="810" y="251" width="5" height="6" fill="#000"/>
<rect x="820" y="253" width="1" height="19" fill="#000"/>
<rect x="818" y="256" width="5" height="6" fill="#000"/>
<rect x="828" y="277" width="1" height="28" fill="#000"/>
<rect x="826.5" y="291.5" width="4" height="5" fill="#fff" stroke="#000" stroke-width="1"/>
<rect x="836" y="288" width="1" height="23" fill="#000"/>
<rect x="834" y="291" width="5" height="19" fill="#000"/>
<rect x="844" y="289" width="1" height="24" fill="#000"/>
<rect x="842.5" y="300.5" width="4" height="6" fill="#fff" stroke="#000" stroke-width="1"/>
<rect x="852" y="269" width="1" height="36" fill="#000"/>
<rect x="850.5" y="292.5" width="4" height="11" fill="#fff" stroke="#000" stroke-width="1"/>
<rect x="860" y="286" width="1" height="31" fill="#000"/>
<rect x="858.5" y="289.5" width="4" height="2" fill="#fff" stroke="#000" stroke-width="1"/>
<rect x="868" y="281" width="1" height="16" fill="#000"/>
<rect x="866.5" y="284.5" width="4" height="5" fill="#fff" stroke="#000" stroke-width="1"/>
<rect x="876" y="320" width="1" height="45" fill="#000"/>
<rect x="874" y="320" width="5" height="42" fill="#000"/>
<rect x="884" y="360" width="1" height="25" fill="#000"/>
<rect x="882" y="360" width="5" height="23" fill="#000"/>
<rect x="892" y="367" width="1" height="42" fill="#000"/>
<rect x="890.5" y="394.5" width="4" height="6" fill="#fff" stroke="#000" stroke-width="1"/>
<rect x="900" y="395" width="1" height="27" fill="#000"/>
<rect x="898" y="400" width="5" height="21" fill="#000"/>
<rect x="908" y="404" width="1" height="53" fill="#000"/>
<rect x="906" y="407" width="5" height="40" fill="#000"/>
<rect x="916" y="443" width="1" height="63" fill="#000"/>
<rect x="914" y="447" width="5" height="10" fill="#000"/>
<rect x="924" y="406" width="1" height="55" fill="#000"/>
<rect x="922.5" y="413.5" width="4" height="38" fill="#fff" stroke="#000" stroke-width="1"/>
<rect x="932" y="402" width="1" height="45" fill="#000"/>
<rect x="930" y="410" width="5" height="31" fill="#000"/>
<rect x="940" y="413" width="1" height="47" fill="#000"/>
<rect x="938.5" y="424.5" width="4" height="30" fill="#fff" stroke="#000" stroke-width="1"/>
<rect x="948" y="411" width="1" height="25" fill="#000"/>
<rect x="946.5" y="419.5" width="4" height="6" fill="#fff" stroke="#000" stroke-width="1"/>
<rect x="956" y="428" width="1" height="38" fill="#000"/>
<rect x="954" y="434" width="5" height="5" fill="#000"/>
<rect x="964" y="405" width="1" height="38" fill="#000"/>
<rect x="962.5" y="413.5" width="4" height="25" fill="#fff" stroke="#000" stroke-width="1"/>
<rect x="972" y="436" width="1" height="38" fill="#000"/>
<rect x="970.5" y="455.5" width="4" height="9" fill="#fff" stroke="#000" stroke-width="1"/>
<rect x="980" y="451" width="1" height="28" fill="#000"/>
<rect x="978" y="455" width="5" height="21" fill="#000"/>
<rect x="988" y="416" width="1" height="37" fill="#000"/>
<rect x="986" y="424" width="5" height="6" fill="#000"/>
<rect x="996" y="381" width="1" height="47" fill="#000"/>
<rect x="994.5" y="383.5" width="4" height="43" fill="#fff" stroke="#000" stroke-width="1"/>
<rect x="1004" y="367" width="1" height="32" fill="#000"/>
<rect x="1002" y="372" width="5" height="21" fill="#000"/>
<rect x="1012" y="379" width="1" height="17" fill="#000"/>
<rect x="1010.5" y="384.5" width="4" height="6" fill="#fff" stroke="#000" stroke-width="1"/>
<rect x="1020" y="340" width="1" height="25" fill="#000"/>
<rect x="1018.5" y="356.5" width="4" height="8" fill="#fff" stroke="#000" stroke-width="1"/>
<rect x="1028" y="346" width="1" height="20" fill="#000"/>
<rect x="1026" y="357" width="5" height="8" fill="#000"/>
<rect x="1036" y="355" width="1" height="35" fill="#000"/>
<rect x="1034.5" y="366.5" width="4" height="18" fill="#fff" stroke="#000" stroke-width="1"/>
<rect x="1044" y="366" width="1" height="31" fill="#000"/>
<rect x="1042" y="367" width="5" height="23" fill="#000"/>
<rect x="1052" y="332" width="1" height="33" fill="#000"/>
<rect x="1050.5" y="354.5" width="4" height="4" fill="#fff" stroke="#000" stroke-width="1"/>
<rect x="1060" y="350" width="1" height="45" fill="#000"/>
<rect x="1058" y="353" width="5" height="31" fill="#000"/>
<rect x="1068" y="409" width="1" height="29" fill="#000"/>
<rect x="1066" y="427" width="5" height="5" fill="#000"/>
<rect x="1076" y="427" width="1" height="18" fill="#000"/>
<rect x="1074" y="431" width="5" height="9" fill="#000"/>
<rect x="1084" y="418" width="1" height="27" fill="#000"/>
<rect x="1082" y="425" width="5" height="4" fill="#000"/>
<rect x="1092" y="428" width="1" height="49" fill="#000"/>
<rect x="1090" y="428" width="5" height="39" fill="#000"/>
<rect x="1100" y="468" width="1" height="34" fill="#000"/>
<rect x="1098" y="480" width="5" height="8" fill="#000"/>
<rect x="1108" y="447" width="1" height="40" fill="#000"/>
<rect x="1106.5" y="454.5" width="4" height="32" fill="#fff" stroke="#000" stroke-width="1"/>
<rect x="1116" y="444" width="1" height="55" fill="#000"/>
<rect x="1114" y="456" width="5" height="42" fill="#000"/>
<rect x="1124" y="478" width="1" height="25" fill="#000"/>
<rect x="1122" y="494" width="5" height="8" fill="#000"/>
<rect x="1132" y="495" width="1" height="45" fill="#000"/>
<rect x="1130" y="504" width="5" height="34" fill="#000"/>
<rect x="1140" y="523" width="1" height="43" fill="#000"/>
<rect x="1138" y="537" width="5" height="12" fill="#000"/>
<rect x="1148" y="529" width="1" height="26" fill="#000"/>
<rect x="1146.5" y="534.5" width="4" height="7" fill="#fff" stroke="#000" stroke-width="1"/>
<rect x="1156" y="507" width="1" height="33" fill="#000"/>
<rect x="1154.5" y="532.5" width="4" height="3" fill="#fff" stroke="#000" stroke-width="1"/>
<rect x="1164" y="486" width="1" height="31" fill="#000"/>
<rect x="1162" y="490" width="5" height="23" fill="#000"/>
<rect x="1172" y="502" width="1" height="21" fill="#000"/>
<rect x="1170.5" y="506.5" width="4" height="7" fill="#fff" stroke="#000" stroke-width="1"/>
<rect x="1180" y="484" width="1" height="33" fill="#000"/>
<rect x="1178" y="494" width="5" height="7" fill="#000"/>
<rect x="1188" y="487" width="1" height="17" fill="#000"/>
<rect x="1186.5" y="491.5" width="4" height="9" fill="#fff" stroke="#000" stroke-width="1"/>
<rect x="1196" y="464" width="1" height="31" fill="#000"/>
<rect x="1194" y="472" width="5" height="15" fill="#000"/>
<rect x="1204" y="473" width="1" height="33" fill="#000"/>
<rect x="1202" y="476" width="5" height="13" fill="#000"/>
<rect x="1212" y="468" width="1" height="26" fill="#000"/>
<rect x="1210.5" y="470.5" width="4" height="18" fill="#fff" stroke="#000" stroke-width="1"/>
<rect x="1220" y="478" width="1" height="35" fill="#000"/>
<rect x="1218" y="482" width="5" height="27" fill="#000"/>
<rect x="1228" y="504" width="1" height="17" fill="#000"/>
<rect x="1226" y="508" width="5" height="5" fill="#000"/>
<rect x="1236" y="486" width="1" height="30" fill="#000"/>
<rect x="1234.5" y="500.5" width="4" height="8" fill="#fff" stroke="#000" stroke-width="1"/>
<rect x="1244" y="495" width="1" height="30" fill="#000"/>
<rect x="1242" y="500" width="5" height="1" fill="#000"/>
<rect x="1252" y="437" width="1" height="32" fill="#000"/>
<rect x="1250" y="455" width="5" height="9" fill="#000"/>
<rect x="1260" y="435" width="1" height="56" fill="#000"/>
<rect x="1258" y="454" width="5" height="35" fill="#000"/>
<rect x="1268" y="481" width="1" height="15" fill="#000"/>
<rect x="1266.5" y="484.5" width="4" height="3" fill="#fff" stroke="#000" stroke-width="1"/>
<rect x="1276" y="460" width="1" height="41" fill="#000"/>
<rect x="1274" y="469" width="5" height="22" fill="#000"/>
<rect x="1284" y="469" width="1" height="27" fill="#000"/>
<rect x="1282.5" y="479.5" width="4" height="10" fill="#fff" stroke="#000" stroke-width="1"/>
<rect x="1292" y="475" width="1" height="44" fill="#000"/>
<rect x="1290" y="486" width="5" height="21" fill="#000"/>
<rect x="1300" y="508" width="1" height="31" fill="#000"/>
<rect x="1298" y="508" width="5" height="26" fill="#000"/>
<rect x="1308" y="513" width="1" height="46" fill="#000"/>
<rect x="1306" y="534" width="5" height="11" fill="#000"/>
<rect x="1316" y="507" width="1" height="48" fill="#000"/>
<rect x="1314.5" y="520.5" width="4" height="26" fill="#fff" stroke="#000" stroke-width="1"/>
<rect x="1324" y="465" width="1" height="36" fill="#000"/>
<rect x="1322.5" y="474.5" width="4" height="9" fill="#fff" stroke="#000" stroke-width="1"/>
<rect x="1332" y="450" width="1" height="27" fill="#000"/>
<rect x="1330.5" y="456.5" width="4" height="18" fill="#fff" stroke="#000" stroke-width="1"/>
<rect x="1340" y="419" width="1" height="40" fill="#000"/>
<rect x="1338.5" y="427.5" width="4" height="24" fill="#fff" stroke="#000" stroke-width="1"/>
<rect x="1348" y="412" width="1" height="22" fill="#000"/>
<rect x="1346" y="426" width="5" height="3" fill="#000"/>
<rect x="1356" y="404" width="1" height="46" fill="#000"/>
<rect x="1354.5" y="408.5" width="4" height="28" fill="#fff" stroke="#000" stroke-width="1"/>
<rect x="1364" y="406" width="1" height="39" fill="#000"/>
<rect x="1362" y="409" width="5" height="17" fill="#000"/>
<rect x="1372" y="352" width="1" height="40" fill="#000"/>
<rect x="1370.5" y="355.5" width="4" height="31" fill="#fff" stroke="#000" stroke-width="1"/>
<rect x="1380" y="331" width="1" height="26" fill="#000"/>
<rect x="1378.5" y="342.5" width="4" height="14" fill="#fff" stroke="#000" stroke-width="1"/>
<rect x="1388" y="311" width="1" height="24" fill="#000"/>
<rect x="1386" y="320" width="5" height="9" fill="#000"/>
<rect x="1396" y="318" width="1" height="25" fill="#000"/>
<rect x="1394.5" y="323.5" width="4" height="2" fill="#fff" stroke="#000" stroke-width="1"/>
<rect x="1404" y="348" width="1" height="17" fill="#000"/>
<rect x="1402" y="354" width="5" height="5" fill="#000"/>
<rect x="1412" y="332" width="1" height="29" fill="#000"/>
<rect x="1410.5" y="332.5" width="4" height="24" fill="#fff" stroke="#000" stroke-width="1"/>
<rect x="1420" y="329" width="1" height="33" fill="#000"/>
<rect x="1418" y="329" width="5" height="25" fill="#000"/>
<rect x="1428" y="352" width="1" height="21" fill="#000"/>
<rect x="1426" y="355" width="5" height="5" fill="#000"/>
</g>
</g>
<g shape-rendering="crispEdges" fill="#fff" stroke-width="1">
<rect x="1650.5" y="297.5" width="4" height="4" stroke="#ff0000"/>
<rect x="-3.5" y="297.5" width="4" height="4" stroke="#ff0000"/>
<rect x="1650.5" y="318.5" width="4" height="4" stroke="#ff0000"/>
<rect x="-3.5" y="318.5" width="4" height="4" stroke="#ff0000"/>
<rect x="1650.5" y="381.5" width="4" height="4" stroke="#0000ff"/>
<rect x="-3.5" y="381.5" width="4" height="4" stroke="#0000ff"/>
<rect x="1650.5" y="406.5" width="4" height="4" stroke="#0000ff"/>
<rect x="-3.5" y="406.5" width="4" height="4" stroke="#0000ff"/>
</g>
<g shape-rendering="crispEdges" fill="#ff0000"><rect x="293" y="432" width="10" height="1"/><rect x="1043" y="332" width="9" height="1"/><rect x="1131" y="565" width="9" height="1"/><rect x="1299" y="558" width="9" height="1"/><rect x="1379" y="311" width="9" height="1"/><rect x="1213" y="346" width="10" height="1"/></g><rect x="303.5" y="423.5" width="60" height="18" fill="#fff" stroke="#ff0000" stroke-width="1" shape-rendering="crispEdges"/><text x="305" y="439" font-size="16" fill="#ff0000" textLength="57" lengthAdjust="spacingAndGlyphs">23641.4</text><rect x="981.5" y="323.5" width="61" height="18" fill="#fff" stroke="#ff0000" stroke-width="1" shape-rendering="crispEdges"/><text x="983.5" y="339" font-size="16" fill="#ff0000" textLength="57" lengthAdjust="spacingAndGlyphs">24383.1</text><rect x="1069.5" y="556.5" width="61" height="18" fill="#fff" stroke="#ff0000" stroke-width="1" shape-rendering="crispEdges"/><text x="1071" y="571.5" font-size="16" fill="#ff0000" textLength="57" lengthAdjust="spacingAndGlyphs">22655.0</text><rect x="1237.5" y="549.5" width="61" height="18" fill="#fff" stroke="#ff0000" stroke-width="1" shape-rendering="crispEdges"/><text x="1239.5" y="564.5" font-size="16" fill="#ff0000" textLength="57" lengthAdjust="spacingAndGlyphs">22706.9</text><rect x="1317.5" y="302.5" width="61" height="18" fill="#fff" stroke="#ff0000" stroke-width="1" shape-rendering="crispEdges"/><text x="1319.5" y="317.5" font-size="16" fill="#ff0000" textLength="57.5" lengthAdjust="spacingAndGlyphs">24538.8</text><rect x="1223.5" y="334.5" width="73" height="24" fill="#fff" stroke="#ff0000" stroke-width="1" shape-rendering="crispEdges"/><text x="1224.5" y="355" font-size="21" fill="#ff0000" textLength="70.5" lengthAdjust="spacingAndGlyphs">24279.2</text><g clip-path="url(#cMain)"><line x1="1313" y1="550.5" x2="1387.1" y2="315.1" stroke="#ff0000" stroke-width="3.2"/><path d="M1389.5,307.5 L1391.3,318.5 L1381.7,315.5 Z" fill="#ff0000"/><line x1="1389.5" y1="307.5" x2="1425.9" y2="359.4" stroke="#ff0000" stroke-width="3.2"/><path d="M1430.5,366.0 L1420.5,360.8 L1429.0,354.8 Z" fill="#ff0000"/></g><rect x="1361" y="342" width="103" height="6" fill="#00ff00" shape-rendering="crispEdges"/><line x1="1330.5" y1="679.5" x2="1391.7" y2="613.6" stroke="#ff0000" stroke-width="3"/><path d="M1396.5,608.5 L1394.4,618.8 L1386.3,611.3 Z" fill="#ff0000"/><line x1="1396.5" y1="608.5" x2="1435.7" y2="617.9" stroke="#ff0000" stroke-width="3"/><path d="M1442.5,619.5 L1432.5,622.8 L1435.0,612.1 Z" fill="#ff0000"/><line x1="1379.5" y1="800.5" x2="1426.8" y2="813.6" stroke="#ff0000" stroke-width="3"/><path d="M1433.5,815.5 L1423.4,818.4 L1426.3,807.8 Z" fill="#ff0000"/>
<g font-size="9.8" shape-rendering="crispEdges">
<rect x="1657" y="293" width="42" height="11" fill="#ff0000"/>
<text x="1661.5" y="302.6" fill="#fff" textLength="32" lengthAdjust="spacingAndGlyphs">24627.8</text>
<rect x="1657" y="314" width="42" height="11" fill="#ff0000"/>
<text x="1661.5" y="323.6" fill="#fff" textLength="32" lengthAdjust="spacingAndGlyphs">24472.1</text>
<rect x="1657" y="340" width="42" height="11" fill="#32cd32"/>
<text x="1661.5" y="349.6" fill="#fff" textLength="32" lengthAdjust="spacingAndGlyphs">24279.2</text>
<rect x="1657" y="353" width="42" height="11" fill="#000"/>
<text x="1661.5" y="362.6" fill="#fff" textLength="32" lengthAdjust="spacingAndGlyphs">24179.0</text>
<rect x="1657" y="377" width="42" height="11" fill="#0000ff"/>
<text x="1661.5" y="386.6" fill="#fff" textLength="32" lengthAdjust="spacingAndGlyphs">24004.8</text>
<rect x="1657" y="402" width="42" height="11" fill="#0000ff"/>
<text x="1661.5" y="411.6" fill="#fff" textLength="32" lengthAdjust="spacingAndGlyphs">23819.4</text>
</g>
<g clip-path="url(#cMacd)">
<g shape-rendering="crispEdges" fill="#c0c0c0">
<rect x="4" y="642" width="1" height="18"/>
<rect x="12" y="638" width="1" height="22"/>
<rect x="20" y="637" width="1" height="23"/>
<rect x="28" y="636" width="1" height="24"/>
<rect x="36" y="640" width="1" height="20"/>
<rect x="44" y="646" width="1" height="14"/>
<rect x="52" y="644" width="1" height="16"/>
<rect x="60" y="643" width="1" height="17"/>
<rect x="68" y="649" width="1" height="11"/>
<rect x="76" y="652" width="1" height="8"/>
<rect x="84" y="655" width="1" height="5"/>
<rect x="92" y="659" width="1" height="3"/>
<rect x="100" y="659" width="1" height="11"/>
<rect x="108" y="659" width="1" height="20"/>
<rect x="116" y="659" width="1" height="35"/>
<rect x="124" y="659" width="1" height="44"/>
<rect x="132" y="659" width="1" height="49"/>
<rect x="140" y="659" width="1" height="51"/>
<rect x="148" y="659" width="1" height="65"/>
<rect x="156" y="659" width="1" height="74"/>
<rect x="164" y="659" width="1" height="80"/>
<rect x="172" y="659" width="1" height="82"/>
<rect x="180" y="659" width="1" height="80"/>
<rect x="188" y="659" width="1" height="75"/>
<rect x="196" y="659" width="1" height="71"/>
<rect x="204" y="659" width="1" height="72"/>
<rect x="212" y="659" width="1" height="70"/>
<rect x="220" y="659" width="1" height="70"/>
<rect x="228" y="659" width="1" height="63"/>
<rect x="236" y="659" width="1" height="59"/>
<rect x="244" y="659" width="1" height="56"/>
<rect x="252" y="659" width="1" height="51"/>
<rect x="260" y="659" width="1" height="47"/>
<rect x="268" y="659" width="1" height="43"/>
<rect x="276" y="659" width="1" height="47"/>
<rect x="284" y="659" width="1" height="49"/>
<rect x="292" y="659" width="1" height="48"/>
<rect x="300" y="659" width="1" height="48"/>
<rect x="308" y="659" width="1" height="49"/>
<rect x="316" y="659" width="1" height="49"/>
<rect x="324" y="659" width="1" height="41"/>
<rect x="332" y="659" width="1" height="32"/>
<rect x="340" y="659" width="1" height="25"/>
<rect x="348" y="659" width="1" height="16"/>
<rect x="356" y="659" width="1" height="1"/>
<rect x="364" y="649" width="1" height="11"/>
<rect x="372" y="645" width="1" height="15"/>
<rect x="380" y="643" width="1" height="17"/>
<rect x="388" y="641" width="1" height="19"/>
<rect x="396" y="637" width="1" height="23"/>
<rect x="404" y="632" width="1" height="28"/>
<rect x="412" y="630" width="1" height="30"/>
<rect x="420" y="625" width="1" height="35"/>
<rect x="428" y="618" width="1" height="42"/>
<rect x="436" y="612" width="1" height="48"/>
<rect x="444" y="603" width="1" height="57"/>
<rect x="452" y="596" width="1" height="64"/>
<rect x="460" y="592" width="1" height="68"/>
<rect x="468" y="592" width="1" height="68"/>
<rect x="476" y="590" width="1" height="70"/>
<rect x="484" y="590" width="1" height="70"/>
<rect x="492" y="590" width="1" height="70"/>
<rect x="500" y="590" width="1" height="70"/>
<rect x="508" y="593" width="1" height="67"/>
<rect x="516" y="596" width="1" height="64"/>
<rect x="524" y="606" width="1" height="54"/>
<rect x="532" y="614" width="1" height="46"/>
<rect x="540" y="621" width="1" height="39"/>
<rect x="548" y="629" width="1" height="31"/>
<rect x="556" y="636" width="1" height="24"/>
<rect x="564" y="643" width="1" height="17"/>
<rect x="572" y="653" width="1" height="7"/>
<rect x="580" y="659" width="1" height="1"/>
<rect x="588" y="659" width="1" height="4"/>
<rect x="596" y="659" width="1" height="10"/>
<rect x="604" y="659" width="1" height="17"/>
<rect x="612" y="659" width="1" height="20"/>
<rect x="620" y="659" width="1" height="21"/>
<rect x="628" y="659" width="1" height="20"/>
<rect x="636" y="659" width="1" height="22"/>
<rect x="644" y="659" width="1" height="25"/>
<rect x="652" y="659" width="1" height="29"/>
<rect x="660" y="659" width="1" height="32"/>
<rect x="668" y="659" width="1" height="34"/>
<rect x="676" y="659" width="1" height="34"/>
<rect x="684" y="659" width="1" height="38"/>
<rect x="692" y="659" width="1" height="33"/>
<rect x="700" y="659" width="1" height="30"/>
<rect x="708" y="659" width="1" height="24"/>
<rect x="716" y="659" width="1" height="17"/>
<rect x="724" y="659" width="1" height="12"/>
<rect x="732" y="659" width="1" height="8"/>
<rect x="740" y="659" width="1" height="3"/>
<rect x="748" y="654" width="1" height="6"/>
<rect x="756" y="648" width="1" height="12"/>
<rect x="764" y="645" width="1" height="15"/>
<rect x="772" y="641" width="1" height="19"/>
<rect x="780" y="644" width="1" height="16"/>
<rect x="788" y="646" width="1" height="14"/>
<rect x="796" y="654" width="1" height="6"/>
<rect x="804" y="658" width="1" height="2"/>
<rect x="812" y="659" width="1" height="4"/>
<rect x="820" y="659" width="1" height="8"/>
<rect x="828" y="659" width="1" height="14"/>
<rect x="836" y="659" width="1" height="20"/>
<rect x="844" y="659" width="1" height="24"/>
<rect x="852" y="659" width="1" height="26"/>
<rect x="860" y="659" width="1" height="27"/>
<rect x="868" y="659" width="1" height="27"/>
<rect x="876" y="659" width="1" height="34"/>
<rect x="884" y="659" width="1" height="42"/>
<rect x="892" y="659" width="1" height="50"/>
<rect x="900" y="659" width="1" height="57"/>
<rect x="908" y="659" width="1" height="65"/>
<rect x="916" y="659" width="1" height="72"/>
<rect x="924" y="659" width="1" height="72"/>
<rect x="932" y="659" width="1" height="74"/>
<rect x="940" y="659" width="1" height="73"/>
<rect x="948" y="659" width="1" height="71"/>
<rect x="956" y="659" width="1" height="71"/>
<rect x="964" y="659" width="1" height="67"/>
<rect x="972" y="659" width="1" height="68"/>
<rect x="980" y="659" width="1" height="70"/>
<rect x="988" y="659" width="1" height="66"/>
<rect x="996" y="659" width="1" height="57"/>
<rect x="1004" y="659" width="1" height="50"/>
<rect x="1012" y="659" width="1" height="44"/>
<rect x="1020" y="659" width="1" height="35"/>
<rect x="1028" y="659" width="1" height="29"/>
<rect x="1036" y="659" width="1" height="24"/>
<rect x="1044" y="659" width="1" height="22"/>
<rect x="1052" y="659" width="1" height="17"/>
<rect x="1060" y="659" width="1" height="15"/>
<rect x="1068" y="659" width="1" height="19"/>
<rect x="1076" y="659" width="1" height="23"/>
<rect x="1084" y="659" width="1" height="25"/>
<rect x="1092" y="659" width="1" height="30"/>
<rect x="1100" y="659" width="1" height="35"/>
<rect x="1108" y="659" width="1" height="36"/>
<rect x="1116" y="659" width="1" height="41"/>
<rect x="1124" y="659" width="1" height="44"/>
<rect x="1132" y="659" width="1" height="51"/>
<rect x="1140" y="659" width="1" height="56"/>
<rect x="1148" y="659" width="1" height="58"/>
<rect x="1156" y="659" width="1" height="59"/>
<rect x="1164" y="659" width="1" height="57"/>
<rect x="1172" y="659" width="1" height="54"/>
<rect x="1180" y="659" width="1" height="51"/>
<rect x="1188" y="659" width="1" height="46"/>
<rect x="1196" y="659" width="1" height="42"/>
<rect x="1204" y="659" width="1" height="38"/>
<rect x="1212" y="659" width="1" height="33"/>
<rect x="1220" y="659" width="1" height="33"/>
<rect x="1228" y="659" width="1" height="32"/>
<rect x="1236" y="659" width="1" height="31"/>
<rect x="1244" y="659" width="1" height="29"/>
<rect x="1252" y="659" width="1" height="23"/>
<rect x="1260" y="659" width="1" height="21"/>
<rect x="1268" y="659" width="1" height="19"/>
<rect x="1276" y="659" width="1" height="18"/>
<rect x="1284" y="659" width="1" height="15"/>
<rect x="1292" y="659" width="1" height="16"/>
<rect x="1300" y="659" width="1" height="20"/>
<rect x="1308" y="659" width="1" height="23"/>
<rect x="1316" y="659" width="1" height="23"/>
<rect x="1324" y="659" width="1" height="18"/>
<rect x="1332" y="659" width="1" height="12"/>
<rect x="1340" y="659" width="1" height="4"/>
<rect x="1348" y="656" width="1" height="4"/>
<rect x="1356" y="649" width="1" height="11"/>
<rect x="1364" y="645" width="1" height="15"/>
<rect x="1372" y="635" width="1" height="25"/>
<rect x="1380" y="627" width="1" height="33"/>
<rect x="1388" y="618" width="1" height="42"/>
<rect x="1396" y="612" width="1" height="48"/>
<rect x="1404" y="611" width="1" height="49"/>
<rect x="1412" y="609" width="1" height="51"/>
<rect x="1420" y="609" width="1" height="51"/>
<rect x="1428" y="611" width="1" height="49"/>
</g>
<polyline points="-3.5,660.5 4.5,658.0 12.5,654.0 20.5,650.3 28.5,646.9 36.5,645.0 44.5,643.5 52.5,642.9 60.5,642.5 68.5,642.2 76.5,643.2 84.5,645.0 92.5,647.6 100.5,651.3 108.5,655.6 116.5,660.9 124.5,667.3 132.5,674.4 140.5,681.0 148.5,689.0 156.5,697.5 164.5,706.1 172.5,714.0 180.5,720.6 188.5,725.1 196.5,728.2 204.5,730.8 212.5,733.0 220.5,733.5 228.5,732.4 236.5,730.0 244.5,727.1 252.5,723.8 260.5,720.7 268.5,717.5 276.5,714.7 284.5,712.3 292.5,709.9 300.5,708.2 308.5,707.2 316.5,706.4 324.5,705.2 332.5,703.5 340.5,701.5 348.5,698.1 356.5,692.8 364.5,686.5 372.5,679.6 380.5,672.5 388.5,665.2 396.5,658.4 404.5,652.0 412.5,646.1 420.5,640.7 428.5,636.2 436.5,632.0 444.5,627.4 452.5,622.1 460.5,616.7 468.5,611.7 476.5,607.0 484.5,602.5 492.5,598.6 500.5,595.5 508.5,593.3 516.5,592.6 524.5,593.7 532.5,596.1 540.5,599.3 548.5,603.7 556.5,608.9 564.5,614.8 572.5,621.7 580.5,629.1 588.5,636.4 596.5,643.3 604.5,650.1 612.5,656.4 620.5,661.9 628.5,666.6 636.5,670.7 644.5,674.1 652.5,677.2 660.5,680.3 668.5,682.9 676.5,684.8 684.5,686.8 692.5,688.2 700.5,689.3 708.5,689.5 716.5,688.6 724.5,686.7 732.5,684.1 740.5,680.7 748.5,676.4 756.5,671.0 764.5,665.9 772.5,660.7 780.5,656.5 788.5,653.2 796.5,651.4 804.5,650.6 812.5,650.7 820.5,652.0 828.5,654.6 836.5,658.3 844.5,662.8 852.5,667.3 860.5,671.6 868.5,675.0 876.5,678.8 884.5,683.1 892.5,687.7 900.5,692.6 908.5,697.6 916.5,703.0 924.5,708.2 932.5,713.4 940.5,718.6 948.5,722.7 956.5,725.8 964.5,727.7 972.5,728.9 980.5,729.4 988.5,728.6 996.5,726.9 1004.5,724.2 1012.5,720.9 1020.5,716.9 1028.5,712.2 1036.5,707.4 1044.5,702.4 1052.5,696.5 1060.5,690.9 1068.5,686.8 1076.5,683.8 1084.5,681.7 1092.5,681.1 1100.5,681.8 1108.5,683.2 1116.5,685.3 1124.5,688.4 1132.5,692.3 1140.5,696.4 1148.5,700.3 1156.5,704.2 1164.5,707.2 1172.5,709.3 1180.5,710.9 1188.5,711.5 1196.5,711.2 1204.5,709.8 1212.5,707.3 1220.5,704.4 1228.5,701.4 1236.5,698.5 1244.5,695.7 1252.5,692.6 1260.5,689.8 1268.5,687.3 1276.5,685.0 1284.5,683.1 1292.5,681.2 1300.5,679.8 1308.5,679.0 1316.5,678.4 1324.5,677.8 1332.5,676.8 1340.5,675.1 1348.5,672.9 1356.5,670.2 1364.5,667.0 1372.5,662.4 1380.5,656.3 1388.5,649.3 1396.5,642.2 1404.5,635.7 1412.5,629.7 1420.5,624.5 1428.5,620.2" fill="none" stroke="#ff0000" stroke-width="1" stroke-dasharray="3,3" shape-rendering="crispEdges"/>
</g>
<text x="1" y="591.5" font-size="10" fill="#000" textLength="127" lengthAdjust="spacingAndGlyphs">MACD(12,26,9) 272.31 222.75</text>
<g font-size="9.5" fill="#000" shape-rendering="crispEdges">
<rect x="1656" y="581" width="2" height="1"/><text x="1659" y="590">433.23</text>
<rect x="1656" y="659" width="2" height="1"/><text x="1659" y="663">0.00</text>
<rect x="1656" y="748" width="2" height="1"/><text x="1659" y="746">-491.94</text>
</g>
<g clip-path="url(#cRsi)">
<g shape-rendering="crispEdges" stroke="#c0c0c0" stroke-width="1" stroke-dasharray="3,3">
<line x1="2" y1="787.5" x2="1655" y2="787.5"/>
<line x1="2" y1="838.5" x2="1655" y2="838.5"/>
<line x1="2" y1="899.5" x2="1655" y2="899.5"/>
</g>
<polyline points="-3.5,823.5 4.5,821.7 12.5,820.7 20.5,827.2 28.5,824.0 36.5,840.0 44.5,848.1 52.5,830.5 60.5,830.0 68.5,846.8 76.5,842.0 84.5,843.5 92.5,852.9 100.5,858.1 108.5,863.6 116.5,874.3 124.5,868.7 132.5,864.7 140.5,859.3 148.5,877.3 156.5,872.3 164.5,873.3 172.5,866.4 180.5,859.9 188.5,854.4 196.5,855.5 204.5,862.9 212.5,859.1 220.5,861.3 228.5,849.0 236.5,850.4 244.5,854.0 252.5,846.4 260.5,849.8 268.5,845.2 276.5,861.0 284.5,860.4 292.5,855.0 300.5,856.4 308.5,859.7 316.5,858.5 324.5,837.2 332.5,833.1 340.5,834.3 348.5,826.8 356.5,813.7 364.5,816.4 372.5,825.8 380.5,830.5 388.5,828.7 396.5,823.8 404.5,818.6 412.5,823.6 420.5,816.9 428.5,810.7 436.5,808.8 444.5,801.5 452.5,800.8 460.5,806.5 468.5,810.6 476.5,807.6 484.5,807.0 492.5,806.5 500.5,806.3 508.5,812.9 516.5,812.7 524.5,837.7 532.5,838.0 540.5,840.1 548.5,845.6 556.5,846.3 564.5,850.5 572.5,861.2 580.5,857.5 588.5,846.8 596.5,858.4 604.5,864.6 612.5,853.7 620.5,852.5 628.5,844.6 636.5,853.9 644.5,857.1 652.5,861.6 660.5,861.5 668.5,862.3 676.5,858.2 684.5,868.9 692.5,841.2 700.5,844.9 708.5,834.0 716.5,830.9 724.5,830.1 732.5,832.6 740.5,827.7 748.5,818.2 756.5,819.0 764.5,823.7 772.5,820.5 780.5,838.7 788.5,836.8 796.5,854.7 804.5,848.0 812.5,849.2 820.5,850.7 828.5,858.5 836.5,862.7 844.5,859.1 852.5,855.9 860.5,854.6 868.5,852.5 876.5,871.5 884.5,875.4 892.5,877.5 900.5,881.7 908.5,885.6 916.5,887.0 924.5,868.2 932.5,873.2 940.5,866.9 948.5,864.9 956.5,868.8 964.5,859.1 972.5,868.0 980.5,871.6 988.5,855.4 996.5,842.1 1004.5,844.2 1012.5,842.1 1020.5,834.6 1028.5,836.8 1036.5,837.4 1044.5,844.3 1052.5,833.8 1060.5,842.3 1068.5,854.0 1076.5,855.8 1084.5,852.0 1092.5,860.6 1100.5,864.8 1108.5,853.8 1116.5,862.5 1124.5,863.2 1132.5,869.7 1140.5,871.5 1148.5,866.4 1156.5,865.6 1164.5,858.1 1172.5,855.9 1180.5,853.6 1188.5,850.1 1196.5,848.0 1204.5,848.8 1212.5,841.4 1220.5,854.1 1228.5,855.0 1236.5,849.9 1244.5,850.1 1252.5,834.9 1260.5,844.0 1268.5,842.5 1276.5,844.7 1284.5,840.1 1292.5,850.0 1300.5,858.6 1308.5,861.6 1316.5,851.2 1324.5,834.2 1332.5,828.9 1340.5,820.8 1348.5,821.2 1356.5,816.0 1364.5,823.0 1372.5,807.3 1380.5,805.0 1388.5,802.4 1396.5,801.6 1404.5,816.6 1412.5,811.0 1420.5,818.9 1428.5,821.2" fill="none" stroke="#1e90ff" stroke-width="1" shape-rendering="crispEdges"/>
</g>
<text x="0.5" y="763.5" font-size="10" fill="#000" textLength="67.5" lengthAdjust="spacingAndGlyphs">RSI(14) 60.2830</text>
<g font-size="9.5" fill="#000" shape-rendering="crispEdges">
<rect x="1656" y="753" width="2" height="1"/>
<rect x="1656" y="924" width="2" height="1"/>
<text x="1659" y="762">100</text><text x="1659" y="791">80</text><text x="1659" y="842">50</text><text x="1659" y="903">15</text><text x="1659" y="922">0</text>
</g>
<path d="M0,35 L3,31 L6,35 Z" fill="#000"/>
<text x="11" y="35.8" font-size="10" fill="#000" xml:space="preserve" textLength="188" lengthAdjust="spacingAndGlyphs">HK50-,H4  24214.0 24233.0 24083.5 24179.0</text>
<rect x="0" y="42" width="219" height="59" fill="#fff"/><rect x="0" y="44" width="51" height="24" fill="url(#gsTop)"/><rect x="0" y="44" width="51" height="1" fill="#1a1ab8"/><rect x="50" y="44" width="1" height="24" fill="#1a1ab8"/><text x="11.5" y="60" font-size="12" fill="#fff" textLength="25.5" lengthAdjust="spacingAndGlyphs">SELL</text><rect x="166" y="44" width="52" height="24" fill="url(#gsTop)"/><rect x="166" y="44" width="52" height="1" fill="#1a1ab8"/><rect x="166" y="44" width="1" height="24" fill="#1a1ab8"/><rect x="217" y="44" width="1" height="24" fill="#1a1ab8"/><text x="179.5" y="60" font-size="12" fill="#fff" textLength="23.5" lengthAdjust="spacingAndGlyphs">BUY</text><rect x="0" y="68" width="108" height="33" fill="url(#gsBot)"/><rect x="110" y="68" width="108" height="33" fill="url(#gsBot)"/><rect x="0" y="68" width="108" height="1" fill="#1a1ab8"/><rect x="110" y="68" width="108" height="1" fill="#1a1ab8"/><rect x="3" y="68" width="44" height="1" fill="#7a7aff"/><rect x="170" y="68" width="44" height="1" fill="#7a7aff"/><rect x="107" y="68" width="1" height="33" fill="#0000a0"/><rect x="110" y="68" width="1" height="33" fill="#0000a0"/><rect x="217" y="44" width="1" height="57" fill="#0000a0"/><text x="15.5" y="96" font-size="12.5" font-weight="bold" fill="#fff" textLength="34" lengthAdjust="spacingAndGlyphs">24177</text><text x="51.5" y="96.5" font-size="36" font-weight="bold" fill="#fff">.</text><text x="61.5" y="96.3" font-size="35" fill="#fff" textLength="15" lengthAdjust="spacingAndGlyphs">5</text><text x="125.5" y="96" font-size="12.5" font-weight="bold" fill="#fff" textLength="34.5" lengthAdjust="spacingAndGlyphs">24190</text><text x="163" y="96.5" font-size="36" font-weight="bold" fill="#fff">.</text><text x="173" y="96.3" font-size="35" fill="#fff" textLength="15" lengthAdjust="spacingAndGlyphs">5</text><rect x="53.5" y="44.5" width="110" height="21" fill="#fff" stroke="#a8a8a8" stroke-width="1"/><rect x="54" y="45" width="21" height="20" fill="url(#gBtn)"/><rect x="75" y="45" width="1" height="20" fill="#a8a8a8"/><rect x="142" y="45" width="21" height="20" fill="url(#gBtn)"/><rect x="141" y="45" width="1" height="20" fill="#a8a8a8"/><path d="M61.5,53 L66.5,53 L64,56 Z" fill="#4a5ab0"/><path d="M149.5,56 L154.5,56 L152,53 Z" fill="#4a5ab0"/><text x="139" y="59" font-size="12" fill="#000" text-anchor="end">1.00</text>
</svg></body></html>
